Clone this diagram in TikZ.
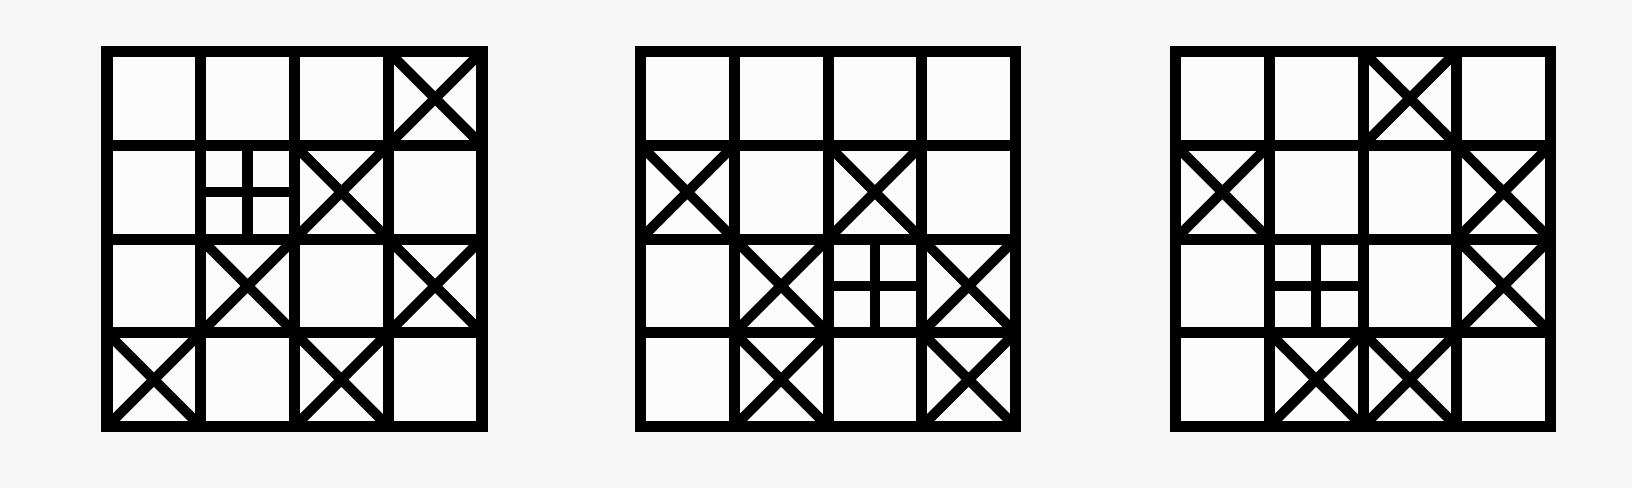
\documentclass[tikz,border=0pt]{standalone}
\definecolor{bgcol}{HTML}{F7F7F7}
\definecolor{cellcol}{HTML}{FCFCFC}
\tikzset{
  frame/.style={line width=5.75pt, line join=miter},
  gridline/.style={line width=5.5pt},
  cross/.style={line width=5pt},
  plusline/.style={line width=5.25pt},
}
\newcommand\mygrid[3]{%
  \begin{scope}[shift={(#1,51.5)}]
    \fill[cellcol] (0,0) rectangle (375,375);
    \foreach \i in {1,2,3} {
      \draw[gridline] (\i*93.75,0) -- (\i*93.75,375);
      \draw[gridline] (0,\i*93.75) -- (375,\i*93.75);
    }
    \foreach \c/\r in {#2} {
      \begin{scope}
        \clip (\c*93.75,\r*93.75) rectangle ++(93.75,93.75);
        \draw[cross] (\c*93.75,\r*93.75) -- ++(93.75,93.75)
                     (\c*93.75+93.75,\r*93.75) -- ++(-93.75,93.75);
      \end{scope}
    }
    \foreach \c/\r in {#3} {
      \draw[plusline] (\c*93.75+46.875,\r*93.75) -- ++(0,93.75)
                      (\c*93.75,\r*93.75+46.875) -- ++(93.75,0);
    }
    \draw[frame] (0,0) rectangle (375,375);
  \end{scope}%
}
\begin{document}
\begin{tikzpicture}[x=0.5pt,y=-0.5pt]
  \fill[bgcol] (0,0) rectangle (1632,488);
  \useasboundingbox (0,0) rectangle (1632,488);
  \mygrid{107}{3/0,2/1,1/2,3/2,0/3,2/3}{1/1}
  \mygrid{640.5}{0/1,2/1,1/2,3/2,1/3,3/3}{2/2}
  \mygrid{1175.5}{2/0,0/1,3/1,3/2,1/3,2/3}{1/2}
\end{tikzpicture}
\end{document}
